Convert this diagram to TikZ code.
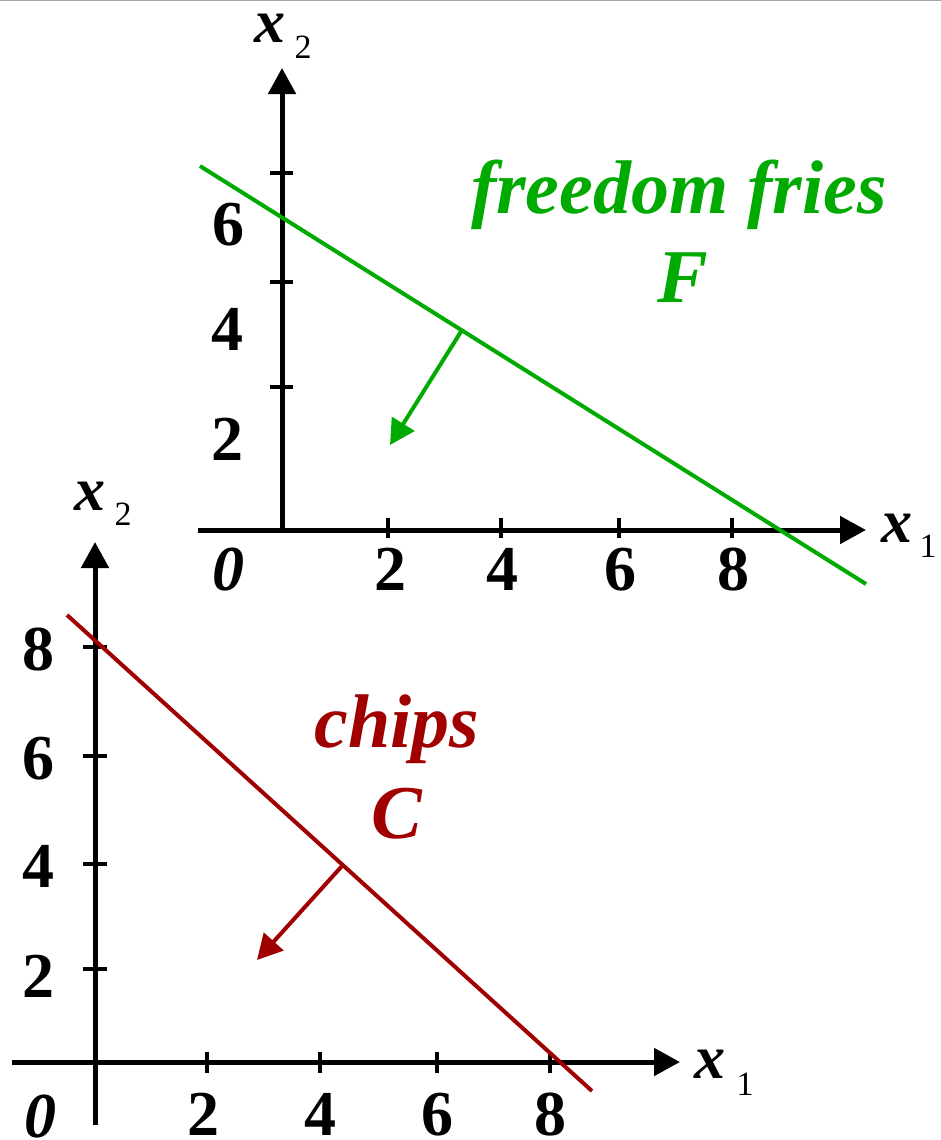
\documentclass[tikz,border=0pt]{standalone}
\usepackage{fontspec}
\setmainfont{Liberation Serif}
\usetikzlibrary{arrows.meta}
\definecolor{fgreen}{RGB}{0,170,0}
\definecolor{cred}{RGB}{160,0,0}
\begin{document}
\begin{tikzpicture}[x=1pt,y=-1pt,
 axis/.style={line width=5pt,-{Triangle[length=26pt,width=27pt]}},
 tickmark/.style={line width=4.5pt},
 num/.style={font=\fontsize{64}{64}\selectfont\bfseries, inner sep=0pt, anchor=base, text depth=0pt},
 zero/.style={font=\fontsize{64}{64}\selectfont\bfseries\itshape, inner sep=0pt, anchor=base, text depth=0pt},
 var/.style={font=\fontsize{62}{62}\selectfont\bfseries\itshape, inner sep=0pt, anchor=base, text height=0.46em, text depth=0pt},
 sub/.style={font=\fontsize{34}{34}\selectfont, inner sep=0pt, anchor=base, text depth=0pt},
 lbl/.style={font=\fontsize{76}{76}\selectfont\bfseries\itshape, inner sep=0pt, anchor=base},
 cline/.style={line width=4pt},
 carrow/.style={line width=4pt,-{Triangle[length=25pt,width=26pt]}}]
\useasboundingbox (0,0) rectangle (941,1140);
\fill[white] (0,0) rectangle (941,1140);
\draw[gray!70, line width=1.5pt] (0,0.75) -- (941,0.75);

% ---------- top graph ----------
\coordinate (tO) at (282,530);
\coordinate (tYend) at (282,68);
\coordinate (tXstart) at (198,530);
\coordinate (tXend) at (866,530);
\draw[axis] (tO) -- (tYend);
\draw[axis] (tXstart) -- (tXend);
\foreach \y in {173,282,387} \draw[tickmark] (270,\y) -- (293,\y);
\foreach \x in {388,501,619,732} \draw[tickmark] (\x,518) -- (\x,538);
\node[num] (ty6) at (228,245) {6};
\node[num] (ty4) at (227,350) {4};
\node[num] (ty2) at (227,460) {2};
\node[zero] (t0) at (228,590) {0};
\node[num] (tx2) at (390,590) {2};
\node[num] (tx4) at (502,590) {4};
\node[num] (tx6) at (620,590) {6};
\node[num] (tx8) at (733,590) {8};
\node[var] (tx2v) at (270,43) {x};
\node[sub] (tx2s) at (303,59) {2};
\node[var] (tx1v) at (897,542) {x};
\node[sub] (tx1s) at (928,557) {1};

\coordinate (gA) at (200,166);
\coordinate (gB) at (866,584);
\coordinate (gS) at (462,330);
\coordinate (gT) at (390,445);
\draw[cline, fgreen] (gA) -- (gB);
\draw[carrow, fgreen] (gS) -- (gT);
\node[lbl, fgreen] (ff) at (679,213) {freedom fries};
\node[lbl, fgreen] (fF) at (683,302) {F};

% ---------- bottom graph ----------
\coordinate (bYstart) at (95,1125);
\coordinate (bYend) at (95,542);
\coordinate (bXstart) at (12,1062);
\coordinate (bXend) at (680,1062);
\draw[axis] (bYstart) -- (bYend);
\draw[axis] (bXstart) -- (bXend);
\foreach \y in {647,756,864,969} \draw[tickmark] (83,\y) -- (107,\y);
\foreach \x in {207,320,437,550} \draw[tickmark] (\x,1052) -- (\x,1073);
\node[num] (by8) at (38,670) {8};
\node[num] (by6) at (38,779) {6};
\node[num] (by4) at (38,887) {4};
\node[num] (by2) at (38,997) {2};
\node[zero] (b0) at (40,1137) {0};
\node[num] (bx2) at (203,1135) {2};
\node[num] (bx4) at (320,1135) {4};
\node[num] (bx6) at (437,1135) {6};
\node[num] (bx8) at (550,1135) {8};
\node[var] (bx2v) at (90,510) {x};
\node[sub] (bx2s) at (123,525) {2};
\node[var] (bx1v) at (710,1078) {x};
\node[sub] (bx1s) at (745,1095) {1};

\coordinate (rA) at (67,615);
\coordinate (rB) at (592,1091);
\coordinate (rS) at (342,866);
\coordinate (rT) at (257,960);
\draw[cline, cred] (rA) -- (rB);
\draw[carrow, cred] (rS) -- (rT);
\node[lbl, cred] (ch) at (397,747) {chips};
\node[lbl, cred] (cC) at (397,838) {C};
\end{tikzpicture}
\end{document}
